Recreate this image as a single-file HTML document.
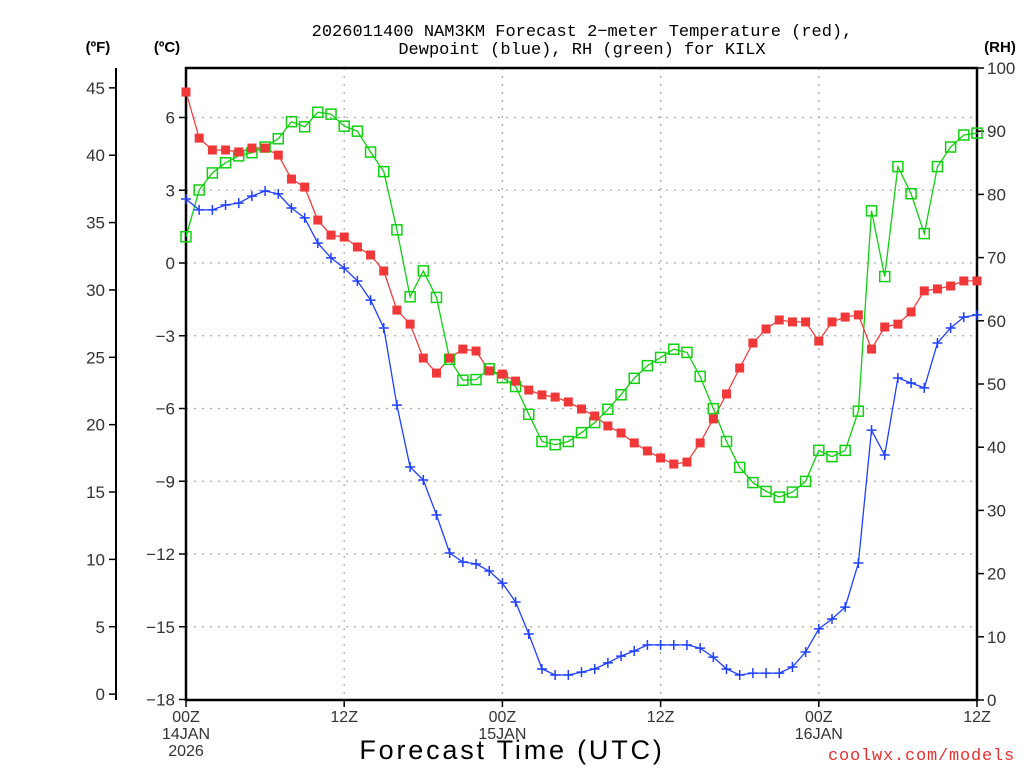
<!DOCTYPE html>
<html><head><meta charset="utf-8"><style>
html,body{margin:0;padding:0;background:#fff;width:1024px;height:768px;overflow:hidden}
svg{display:block;font-family:"Liberation Sans",sans-serif}
</style></head><body>
<svg id="chart" width="1024" height="768" viewBox="0 0 1024 768">
<g id="grid"></g>
<g id="axes"></g>
<g id="series"></g>
<text x="582" y="36" text-anchor="middle" font-size="17" font-family="Liberation Mono, monospace">2026011400 NAM3KM Forecast 2−meter Temperature (red),</text>
<text x="582" y="54" text-anchor="middle" font-size="17" font-family="Liberation Mono, monospace">Dewpoint (blue), RH (green) for KILX</text>
<text x="98" y="52" text-anchor="middle" font-size="15" font-weight="bold">(ºF)</text>
<text x="167" y="52" text-anchor="middle" font-size="15" font-weight="bold">(ºC)</text>
<text x="1000" y="52" text-anchor="middle" font-size="15" font-weight="bold">(RH)</text>
<text x="512" y="759" text-anchor="middle" font-size="27" letter-spacing="2.8">Forecast Time (UTC)</text>
<text x="1015" y="760" text-anchor="end" font-size="17" fill="#e83030" font-family="Liberation Mono, monospace" letter-spacing="0.8">coolwx.com/models</text>
</svg>
<script>
const hours=[];for(let i=0;i<=60;i++)hours.push(i);
const tempC=[7.05,5.15,4.66,4.66,4.58,4.74,4.74,4.45,3.46,3.13,1.77,1.15,1.07,0.66,0.33,-0.33,-1.94,-2.52,-3.92,-4.54,-3.92,-3.55,-3.63,-4.45,-4.58,-4.87,-5.24,-5.44,-5.53,-5.73,-6.02,-6.31,-6.72,-7.01,-7.42,-7.75,-8.04,-8.29,-8.21,-7.42,-6.43,-5.40,-4.33,-3.30,-2.72,-2.35,-2.43,-2.43,-3.22,-2.43,-2.23,-2.14,-3.55,-2.64,-2.52,-2.02,-1.15,-1.07,-0.95,-0.74,-0.74];
const dewC=[2.64,2.19,2.19,2.39,2.47,2.76,2.97,2.85,2.27,1.86,0.82,0.21,-0.21,-0.74,-1.53,-2.68,-5.86,-8.41,-8.95,-10.39,-11.96,-12.33,-12.41,-12.70,-13.20,-13.98,-15.30,-16.74,-16.99,-16.99,-16.87,-16.74,-16.49,-16.21,-16.00,-15.75,-15.75,-15.75,-15.75,-15.88,-16.25,-16.74,-16.99,-16.91,-16.91,-16.91,-16.66,-16.04,-15.09,-14.68,-14.19,-12.37,-6.89,-7.92,-4.74,-4.95,-5.15,-3.30,-2.68,-2.23,-2.14];
const rh=[73.3,80.7,83.4,85.0,86.1,86.6,87.5,88.8,91.5,90.7,93.0,92.7,90.8,90.0,86.7,83.6,74.4,63.8,67.9,63.7,53.9,50.6,50.7,52.4,51.0,49.6,45.2,40.9,40.4,40.9,42.3,43.9,46.0,48.3,50.9,52.9,54.2,55.5,55.0,51.2,46.1,40.9,36.8,34.4,33.0,32.1,32.9,34.6,39.5,38.5,39.5,45.7,77.4,67.0,84.4,80.1,73.8,84.4,87.5,89.4,89.7];
const cTicks=[6,3,0,-3,-6,-9,-12,-15,-18];
const fTicks=[45,40,35,30,25,20,15,10,5,0];
const rhTicks=[100,90,80,70,60,50,40,30,20,10,0];
const xTickHours=[0,12,24,36,48,60];
const xTickLabels=["00Z","12Z","00Z","12Z","00Z","12Z"];
const dateLabels=[[0,"14JAN"],[0,"2026"],[24,"15JAN"],[48,"16JAN"]];

const L=186,R=977,T=68,B=700;
const x=h=>L+(R-L)*h/60;
const yC=c=>263-c*24.25;
const yF=f=>yC((f-32)*5/9);
const yRH=v=>B-(B-T)*v/100;
const NS="http://www.w3.org/2000/svg";
function mk(tag,attrs,parent,txt){const e=document.createElementNS(NS,tag);for(const k in attrs)e.setAttribute(k,attrs[k]);if(txt!==undefined)e.textContent=txt;parent.appendChild(e);return e;}
const grid=document.getElementById('grid'),axes=document.getElementById('axes'),ser=document.getElementById('series');

cTicks.forEach(c=>{const y=yC(c);
 if(c>-18&&c<6.5){const g=mk('line',{x1:L,x2:R,y1:y,y2:y,stroke:'#aaa','stroke-width':1.3,'stroke-dasharray':'2,6'},grid);
 
 }
 const t=mk('line',{x1:L-7,x2:L,y1:y,y2:y,stroke:'#000','stroke-width':1.5},axes);
 
 
 const lb=mk('text',{x:L-11,y:y+6,'text-anchor':'end','font-size':17,fill:'#333'},axes,String(c).replace('-','−'));
 
 
});
fTicks.forEach(f=>{const y=yF(f);
 const t=mk('line',{x1:109,x2:116,y1:y,y2:y,stroke:'#000','stroke-width':1.5},axes);
 
 
 const lb=mk('text',{x:105,y:y+6,'text-anchor':'end','font-size':17,fill:'#333'},axes,String(f));
 
 
});
rhTicks.forEach(v=>{const y=yRH(v);
 const t=mk('line',{x1:R,x2:R+7,y1:y,y2:y,stroke:'#000','stroke-width':1.5},axes);
 
 
 const lb=mk('text',{x:R+10,y:y+6,'text-anchor':'start','font-size':17,fill:'#333'},axes,String(v));
 
 
});
xTickHours.forEach((h,i)=>{const xx=x(h);
 if(h>0&&h<60){const g=mk('line',{x1:xx,x2:xx,y1:T,y2:B,stroke:'#aaa','stroke-width':1.3,'stroke-dasharray':'2,6'},grid);
 
 }
 const t=mk('line',{x1:xx,x2:xx,y1:B,y2:B+7,stroke:'#000','stroke-width':1.5},axes);
 
 
 const lb=mk('text',{x:xx,y:722,'text-anchor':'middle','font-size':16,fill:'#333'},axes,xTickLabels[i]);
 
 
});
dateLabels.forEach((d,i)=>{const yy=(i===1)?756:739;
 const lb=mk('text',{x:x(d[0]),y:yy,'text-anchor':'middle','font-size':16,fill:'#333'},axes,d[1]);
 
 
});
const fr=mk('rect',{x:L,y:T,width:R-L,height:B-T,fill:'none',stroke:'#000','stroke-width':2.5},axes);


const fa=mk('line',{x1:116,x2:116,y1:T,y2:B,stroke:'#000','stroke-width':2},axes);



function line(vals,yf,color,name){
 const pts=vals.map((v,i)=>x(hours[i]).toFixed(1)+','+yf(v).toFixed(1)).join(' ');
 const p=mk('polyline',{points:pts,fill:'none',stroke:color,'stroke-width':1.3},ser);
 
 
}
line(rh,yRH,'#10d010','rh-line');
line(dewC,yC,'#2040ff','dewpoint-line');
line(tempC,yC,'#f04040','temperature-line');
rh.forEach((v,i)=>{const m=mk('rect',{x:x(hours[i])-5,y:yRH(v)-5,width:10,height:10,fill:'#fff','fill-opacity':0,stroke:'#10d010','stroke-width':1.5},ser);
 
 });
dewC.forEach((v,i)=>{const cx=x(hours[i]),cy=yC(v);
 const m=mk('path',{d:`M${cx-5},${cy}H${cx+5}M${cx},${cy-5}V${cy+5}`,stroke:'#2040ff','stroke-width':1.5,fill:'none'},ser);
 
 });
tempC.forEach((v,i)=>{const m=mk('rect',{x:x(hours[i])-4.5,y:yC(v)-4.5,width:9,height:9,fill:'#f03838'},ser);
 
 });
</script>
</body></html>
